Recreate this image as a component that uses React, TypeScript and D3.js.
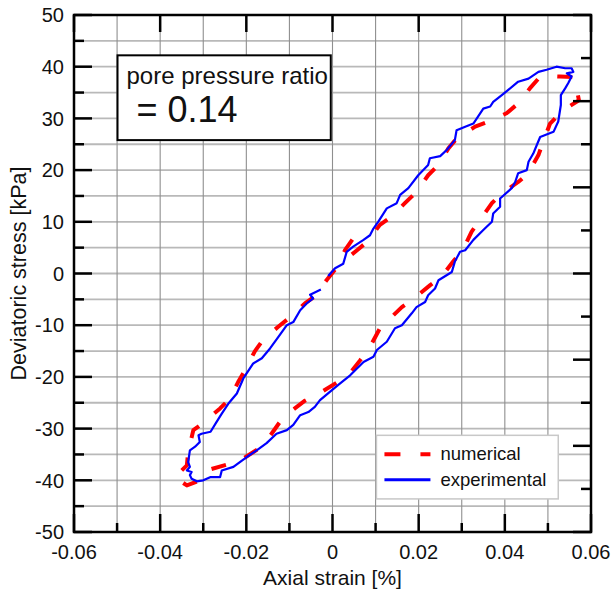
import React, { useEffect, useRef } from "react";
import * as d3 from "d3";

// experimental loop (blue)
const expStrain = [-0.0010, 0.0006, 0.0025, 0.0033, 0.0048, 0.0072, 0.0087, 0.0095, 0.0106, 0.0126, 0.0149, 0.0157, 0.0176, 0.0199, 0.0222, 0.0226, 0.0250, 0.0265, 0.0284, 0.0288, 0.0308, 0.0327, 0.0350, 0.0366, 0.0373, 0.0393, 0.0408, 0.0431, 0.0455, 0.0478, 0.0497, 0.0520, 0.0540, 0.0555, 0.0559, 0.0544, 0.0555, 0.0547, 0.0540, 0.0530, 0.0530, 0.0524, 0.0513, 0.0482, 0.0474, 0.0466, 0.0455, 0.0451, 0.0431, 0.0424, 0.0416, 0.0389, 0.0389, 0.0373, 0.0370, 0.0350, 0.0327, 0.0308, 0.0296, 0.0284, 0.0277, 0.0246, 0.0238, 0.0222, 0.0215, 0.0195, 0.0184, 0.0161, 0.0145, 0.0126, 0.0103, 0.0095, 0.0072, 0.0041, 0.0017, -0.0002, -0.0029, -0.0041, -0.0056, -0.0075, -0.0091, -0.0106, -0.0130, -0.0153, -0.0176, -0.0199, -0.0215, -0.0230, -0.0257, -0.0261, -0.0284, -0.0300, -0.0315, -0.0327, -0.0331, -0.0327, -0.0338, -0.0331, -0.0335, -0.0331, -0.0319, -0.0308, -0.0311, -0.0304, -0.0283, -0.0269, -0.0257, -0.0242, -0.0222, -0.0207, -0.0184, -0.0164, -0.0145, -0.0126, -0.0106, -0.0091, -0.0075, -0.0060, -0.0045, -0.0052, -0.0027];
const expStress = [-0.5, 1.0, 1.9, 4.2, 5.2, 6.5, 7.4, 8.7, 10.0, 12.6, 13.6, 15.2, 16.5, 19.0, 21.0, 22.3, 22.7, 23.9, 25.8, 27.7, 28.4, 29.0, 31.9, 32.3, 33.2, 34.5, 35.5, 37.1, 37.7, 39.0, 39.4, 40.0, 39.7, 39.7, 39.0, 38.7, 38.1, 36.8, 35.8, 34.5, 32.6, 29.4, 27.4, 26.4, 24.8, 23.2, 21.6, 20.0, 19.4, 17.7, 16.5, 14.5, 12.9, 11.6, 10.0, 8.4, 6.5, 4.5, 4.2, 2.3, 0.3, -1.3, -2.9, -4.2, -5.5, -6.5, -7.7, -10.0, -10.6, -13.2, -14.8, -16.1, -17.1, -19.7, -21.3, -22.6, -24.5, -25.8, -26.8, -27.4, -29.3, -30.3, -31.0, -32.8, -34.2, -35.5, -36.5, -37.4, -38.1, -39.4, -39.4, -40.0, -40.2, -39.7, -39.0, -38.4, -38.1, -37.4, -36.5, -34.2, -33.5, -32.6, -31.3, -31.0, -30.6, -28.7, -27.1, -25.2, -23.2, -20.3, -17.4, -16.4, -14.5, -12.3, -10.0, -9.4, -7.1, -5.8, -4.8, -4.1, -3.1];

// numerical loop (red dashed)
const numStrain = [0.0045, 0.0057, 0.0080, 0.0110, 0.0137, 0.0168, 0.0195, 0.0222, 0.0246, 0.0269, 0.0288, 0.0331, 0.0362, 0.0404, 0.0431, 0.0458, 0.0478, 0.0503, 0.0528, 0.0559, 0.0565, 0.0572, 0.0547, 0.0528, 0.0505, 0.0489, 0.0478, 0.0465, 0.0455, 0.0431, 0.0389, 0.0370, 0.0342, 0.0323, 0.0304, 0.0280, 0.0253, 0.0226, 0.0191, 0.0161, 0.0130, 0.0110, 0.0087, 0.0064, 0.0037, 0.0006, -0.0029, -0.0064, -0.0099, -0.0122, -0.0149, -0.0172, -0.0211, -0.0238, -0.0284, -0.0304, -0.0338, -0.0366, -0.0338, -0.0335, -0.0323, -0.0300, -0.0261, -0.0238, -0.0219, -0.0203, -0.0180, -0.0161, -0.0126, -0.0099, -0.0064, -0.0041, -0.0013, 0.0010, 0.0029, 0.0048];
const numStress = [3.7, 4.5, 6.1, 9.4, 11.0, 13.6, 15.8, 19.0, 21.0, 24.2, 26.1, 28.4, 29.4, 31.0, 32.9, 35.8, 37.7, 38.2, 38.1, 38.0, 36.5, 33.5, 32.2, 31.0, 29.0, 25.5, 22.9, 21.0, 19.4, 17.7, 15.2, 13.6, 10.3, 8.1, 4.8, 2.3, -0.6, -2.3, -4.7, -6.5, -9.0, -10.6, -14.2, -16.8, -19.7, -21.3, -23.1, -24.6, -26.8, -28.7, -31.9, -33.9, -36.0, -36.8, -37.9, -39.9, -41.0, -39.4, -37.1, -34.5, -30.3, -28.9, -26.1, -24.2, -21.0, -18.7, -15.0, -12.8, -10.3, -8.5, -5.8, -4.4, -1.2, 1.2, 4.5, 6.8];

const xTicks = [-0.06, -0.04, -0.02, 0, 0.02, 0.04, 0.06];
const xTickLabels = ["-0.06", "-0.04", "-0.02", "0", "0.02", "0.04", "0.06"];
const yTicks = [-50, -40, -30, -20, -10, 0, 10, 20, 30, 40, 50];
const legendNames = ["numerical", "experimental"];
const legendColors = ["#ff0000", "#0000ff"];
const infoTitle = "pore pressure ratio";
const infoValue = "= 0.14";

const FONT = "'Liberation Sans', Arial, sans-serif";

export default function App() {
    const ref = useRef<SVGSVGElement>(null);

    useEffect(() => {
        const W = 613, H = 592;
        const margin = { top: 15, right: 22, bottom: 60, left: 74 },
            width = W - margin.left - margin.right,
            height = H - margin.top - margin.bottom;

        const root = d3.select(ref.current);
        root.selectAll("*").remove();
        const svg = root.append("g").attr("transform", `translate(${margin.left},${margin.top})`);

        const x = d3.scaleLinear().domain([-0.06, 0.06]).range([0, width]);
        const y = d3.scaleLinear().domain([-50, 50]).range([height, 0]);

        // grid
        const xGrid = d3.range(-6, 7).map(i => i / 100);
        const yGrid = d3.range(-50, 51, 5);
        svg.append("g").selectAll("line").data(yGrid).join("line")
            .attr("x1", 0).attr("x2", width)
            .attr("y1", d => y(d)).attr("y2", d => y(d))
            .attr("stroke", "#b9b9b9").attr("stroke-width", 1.8);
        svg.append("g").selectAll("line").data(xGrid).join("line")
            .attr("x1", d => x(d)).attr("x2", d => x(d))
            .attr("y1", 0).attr("y2", height)
            .attr("stroke", "#8f8f8f").attr("stroke-width", 1.1);

        // curves
        const line = (xs: number[], ys: number[]) => d3.line<number>()
            .x(i => x(xs[i])).y(i => y(ys[i]))(d3.range(Math.min(xs.length, ys.length)));

        svg.append("path")
            .attr("d", line(numStrain, numStress))
            .attr("fill", "none").attr("stroke", legendColors[0])
            .attr("stroke-width", 4).attr("stroke-dasharray", "15 20")
            .attr("stroke-linejoin", "round");

        svg.append("path")
            .attr("d", line(expStrain, expStress))
            .attr("fill", "none").attr("stroke", legendColors[1])
            .attr("stroke-width", 2.2).attr("stroke-linejoin", "round");

        // text box
        const bx = x(-0.0499), by = y(42.2);
        svg.append("rect")
            .attr("x", bx).attr("y", by)
            .attr("width", x(-0.0004) - bx).attr("height", y(25.8) - by)
            .attr("fill", "#fff").attr("stroke", "#000").attr("stroke-width", 2);
        svg.append("text").attr("x", bx + 9).attr("y", by + 29)
            .attr("font-family", FONT).attr("font-size", 24).attr("fill", "#111")
            .text(infoTitle);
        svg.append("text").attr("x", bx + 19).attr("y", by + 67)
            .attr("font-family", FONT).attr("font-size", 36).attr("fill", "#111")
            .text(infoValue);

        // legend
        const lx = x(0.0102), ly = y(-31.3);
        svg.append("rect")
            .attr("x", lx).attr("y", ly)
            .attr("width", x(0.0524) - lx).attr("height", y(-43.6) - ly)
            .attr("fill", "#fff").attr("stroke", "#c8c8c8").attr("stroke-width", 1.5);
        legendNames.forEach((name, i) => {
            const yy = ly + 19 + i * 25.4;
            svg.append("line")
                .attr("x1", lx + 8).attr("x2", lx + 54)
                .attr("y1", yy).attr("y2", yy)
                .attr("stroke", legendColors[i])
                .attr("stroke-width", i === 0 ? 4 : 3)
                .attr("stroke-dasharray", i === 0 ? "16 20" : null);
            svg.append("text").attr("x", lx + 64).attr("y", yy + 6)
                .attr("font-family", FONT).attr("font-size", 18.5).attr("fill", "#111")
                .text(name);
        });

        // ticks
        const tick = (x1: number, y1: number, x2: number, y2: number) =>
            svg.append("line").attr("x1", x1).attr("y1", y1).attr("x2", x2).attr("y2", y2)
                .attr("stroke", "#000").attr("stroke-width", 2.5);

        yGrid.forEach(v => {
            const len = v % 10 === 0 ? 18 : 10;
            tick(0, y(v), len, y(v));
        });
        xGrid.forEach((v, i) => {
            const major = i % 2 === 0;
            tick(x(v), height, x(v), height - (major ? 18 : 9));
            if (major) tick(x(v), 0, x(v), 17);
        });
        const r = d3.scaleLinear().domain([0, 12]).range([0, height]);
        d3.range(0, 13).forEach(k => {
            tick(width, r(k), width - (k % 2 === 0 ? 18 : 10), r(k));
        });

        // frame
        svg.append("rect").attr("x", 0).attr("y", 0)
            .attr("width", width).attr("height", height)
            .attr("fill", "none").attr("stroke", "#000").attr("stroke-width", 2.5);

        // tick labels
        svg.append("g").selectAll("text").data(yTicks).join("text")
            .attr("x", -10).attr("y", d => y(d)).attr("dy", "0.36em")
            .attr("text-anchor", "end")
            .attr("font-family", FONT).attr("font-size", 20).attr("fill", "#111")
            .text(d => String(d));
        svg.append("g").selectAll("text").data(xTicks).join("text")
            .attr("x", d => x(d)).attr("y", height + 27)
            .attr("text-anchor", "middle")
            .attr("font-family", FONT).attr("font-size", 20).attr("fill", "#111")
            .text((d, i) => xTickLabels[i]);

        // axis titles
        svg.append("text")
            .attr("x", width / 2).attr("y", height + 53)
            .attr("text-anchor", "middle")
            .attr("font-family", FONT).attr("font-size", 21).attr("fill", "#111")
            .text("Axial strain [%]");
        svg.append("text")
            .attr("transform", `translate(${26 - margin.left},${height / 2}) rotate(-90)`)
            .attr("text-anchor", "middle")
            .attr("font-family", FONT).attr("font-size", 21.5).attr("fill", "#111")
            .text("Deviatoric stress [kPa]");
    }, []);

    return <svg ref={ref} width={613} height={592} style={{ position: "absolute", left: 0, top: 0, background: "#fff" }} />;
}
